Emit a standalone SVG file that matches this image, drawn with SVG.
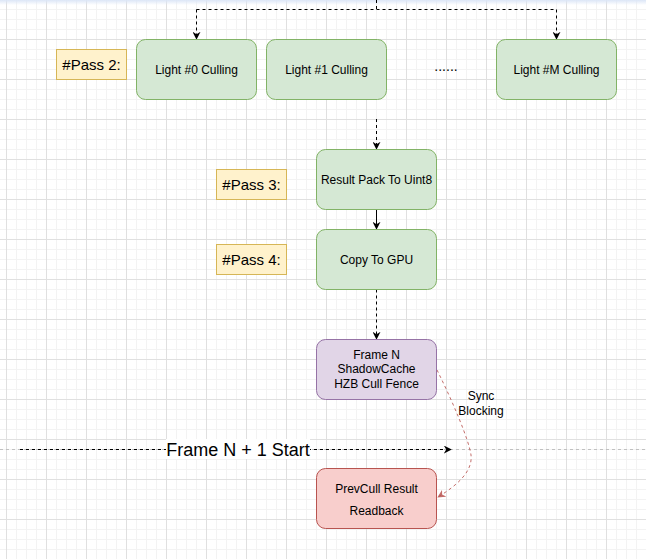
<svg xmlns="http://www.w3.org/2000/svg" width="646" height="559" viewBox="0 0 646 559">
<style>
text{font-family:"Liberation Sans",Arial,sans-serif;fill:#000;text-anchor:middle}
.g{fill:#d5e8d4;stroke:#82b366;stroke-width:1}
.y{fill:#fff2cc;stroke:#d6b656;stroke-width:1}
.p{fill:#e1d5e7;stroke:#9673a6;stroke-width:1}
.r{fill:#f8cecc;stroke:#b85450;stroke-width:1}
.t12{font-size:12px}
.t15{font-size:15px}
.e{fill:none;stroke:#000;stroke-width:1}
.d{stroke-dasharray:3 3}
</style>
<defs>
<pattern id="grid" patternUnits="userSpaceOnUse" x="6" y="-1" width="40" height="40">
<path d="M10.5 0V40M20.5 0V40M30.5 0V40M0 10.5H40M0 20.5H40M0 30.5H40" stroke="#f3f3f3" stroke-width="1" fill="none"/>
<path d="M0.5 0V40M0 0.5H40" stroke="#e0e0e0" stroke-width="1" fill="none"/>
</pattern>
<linearGradient id="top" x1="0" y1="0" x2="0" y2="1">
<stop offset="0" stop-color="#dce6f7"/>
<stop offset="1" stop-color="#dce6f7" stop-opacity="0"/>
</linearGradient>
<marker id="a" viewBox="0 0 10 10" refX="9" refY="5" markerWidth="8" markerHeight="8" markerUnits="userSpaceOnUse" orient="auto">
<path d="M0,0 L10,5 L0,10 L3,5 Z" fill="#000"/>
</marker>
<marker id="ar" viewBox="0 0 10 10" refX="9" refY="5" markerWidth="8" markerHeight="8" markerUnits="userSpaceOnUse" orient="auto">
<path d="M0,0 L10,5 L0,10 L3,5 Z" fill="#b85450" fill-opacity="0.85"/>
</marker>
</defs>
<rect width="646" height="559" fill="#fff"/>
<rect width="646" height="559" fill="url(#grid)"/>
<rect width="646" height="5" fill="url(#top)"/>
<line x1="0" y1="449.5" x2="646" y2="449.5" stroke="#c0c0c0" stroke-dasharray="3 3"/>

<g id="connectors">
<path class="e d" d="M376.5 0V9.5M196.5 9.5H556.5"/>
<path class="e d" d="M196.5 9.5V39" marker-end="url(#a)"/>
<path class="e d" d="M556.5 9.5V39" marker-end="url(#a)"/>
<path class="e d" d="M376.5 119V149" marker-end="url(#a)"/>
<path class="e" d="M376.5 209.5V229" marker-end="url(#a)"/>
<path class="e d" d="M376.5 289.5V339" marker-end="url(#a)"/>
<path class="e d" d="M20 449.5H451" marker-end="url(#a)"/>
<path d="M437 370 C452 400 469 440 471 455 C473 472 456 486 438 497" fill="none" stroke="#b85450" stroke-opacity="0.85" stroke-dasharray="3 3" marker-end="url(#ar)"/>
<rect x="166" y="439" width="144" height="20" fill="#fff"/>
<text x="238" y="456" style="font-size:18px">Frame N + 1 Start</text>
<text x="481" y="400" class="t12">Sync</text>
<text x="481" y="415" class="t12">Blocking</text>
</g>

<g id="pass2"><rect class="y" x="56.5" y="49.5" width="70" height="30"/><text x="91.5" y="70" class="t15">#Pass 2:</text></g>
<g id="light0"><rect class="g" x="136.5" y="39.5" width="120" height="60" rx="9"/><text x="196.5" y="73.5" class="t12">Light #0 Culling</text></g>
<g id="light1"><rect class="g" x="266.5" y="39.5" width="120" height="60" rx="9"/><text x="326.5" y="73.5" class="t12">Light #1 Culling</text></g>
<g id="dots"><text x="446" y="71" style="font-size:14px">......</text></g>
<g id="lightM"><rect class="g" x="496.5" y="39.5" width="120" height="60" rx="9"/><text x="556.5" y="73.5" class="t12">Light #M Culling</text></g>

<g id="pass3"><rect class="y" x="216.5" y="169.5" width="70" height="30"/><text x="251.5" y="190" class="t15">#Pass 3:</text></g>
<g id="pack"><rect class="g" x="316.5" y="149.5" width="120" height="60" rx="9"/><text x="376.5" y="183.5" class="t12">Result Pack To Uint8</text></g>

<g id="pass4"><rect class="y" x="216.5" y="244.5" width="70" height="30"/><text x="251.5" y="265" class="t15">#Pass 4:</text></g>
<g id="copy"><rect class="g" x="316.5" y="229.5" width="120" height="60" rx="9"/><text x="376.5" y="263.5" class="t12">Copy To GPU</text></g>

<g id="fence"><rect class="p" x="316.5" y="339.5" width="120" height="60" rx="9"/>
<text x="376.5" y="358.5" class="t12">Frame N</text>
<text x="376.5" y="373" class="t12">ShadowCache</text>
<text x="376.5" y="388" class="t12">HZB Cull Fence</text></g>

<g id="readback"><rect class="r" x="316.5" y="468.5" width="120" height="60" rx="9"/>
<text x="376.5" y="493" class="t12">PrevCull Result</text>
<text x="376.5" y="515" class="t12">Readback</text></g>
</svg>
